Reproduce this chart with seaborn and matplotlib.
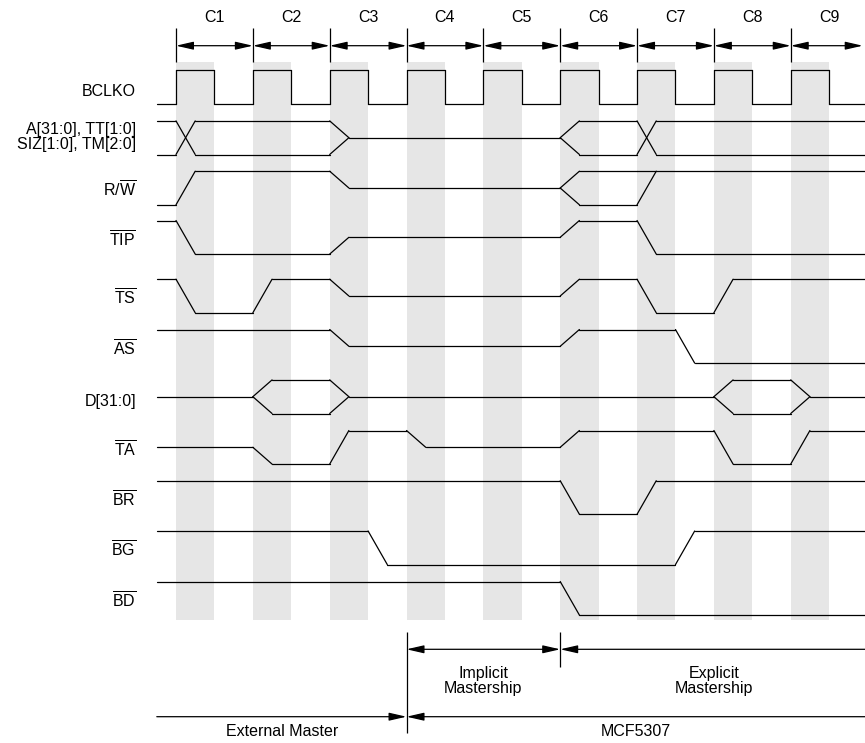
import matplotlib
matplotlib.use("Agg")
import pandas as pd
import matplotlib.pyplot as plt
import seaborn as sns

sns.set_theme(style="white")
plt.rcParams["font.family"] = ["Liberation Sans", "DejaVu Sans"]
plt.rcParams["text.color"] = "black"
plt.rcParams["mathtext.fontset"] = "custom"
plt.rcParams["mathtext.rm"] = "Liberation Sans"
plt.rcParams["mathtext.it"] = "Liberation Sans:italic"
plt.rcParams["mathtext.bf"] = "Liberation Sans:bold"

# ---- data: time in bus clock cycles (0 = rising edge of C1) ----
cycles = ["C1", "C2", "C3", "C4", "C5", "C6", "C7", "C8", "C9"]
cycle_starts = [0, 1, 2, 3, 4, 5, 6, 7, 8]

signal_names = ["BCLKO", "ADDR", r"R/$\overline{\mathrm{W}}$", r"$\overline{\mathrm{TIP}}$",
                r"$\overline{\mathrm{TS}}$", r"$\overline{\mathrm{AS}}$", "D[31:0]",
                r"$\overline{\mathrm{TA}}$", r"$\overline{\mathrm{BR}}$",
                r"$\overline{\mathrm{BG}}$", r"$\overline{\mathrm{BD}}$"]
addr_label = ["A[31:0], TT[1:0]", "SIZ[1:0], TM[2:0]"]

# states: H high, L low, Z three-state (mid), V bus valid (both rails)
clk_start = "L"
clk_events = [(0, "H"), (0.5, "L"), (1, "H"), (1.5, "L"), (2, "H"), (2.5, "L"),
              (3, "H"), (3.5, "L"), (4, "H"), (4.5, "L"), (5, "H"), (5.5, "L"),
              (6, "H"), (6.5, "L"), (7, "H"), (7.5, "L"), (8, "H"), (8.5, "L")]
addr_start = "V"
addr_events = [(0, "V"), (2, "Z"), (5, "V"), (6, "V")]
rw_start = "L"
rw_events = [(0, "H"), (2, "Z"), (5, "V"), (6, "H")]
tip_start = "H"
tip_events = [(0, "L"), (2, "Z"), (5, "H"), (6, "L")]
ts_start = "H"
ts_events = [(0, "L"), (1, "H"), (2, "Z"), (5, "H"), (6, "L"), (7, "H")]
as_start = "H"
as_events = [(2, "Z"), (5, "H"), (6.5, "L")]
d_start = "Z"
d_events = [(1, "V"), (2, "Z"), (7, "V"), (8, "Z")]
ta_start = "Z"
ta_events = [(1, "L"), (2, "H"), (3, "Z"), (5, "H"), (7, "L"), (8, "H")]
br_start = "H"
br_events = [(5, "L"), (6, "H")]
bg_start = "H"
bg_events = [(2.5, "L"), (6.5, "H")]
bd_start = "H"
bd_events = [(5, "L")]

phase_top = [("Implicit", "Mastership", 3, 5), ("Explicit", "Mastership", 5, None)]
phase_bottom = [("External Master", None, 3), ("MCF5307", 3, None)]

# ---- layout (pixels for y, cycles for x) ----
PERIOD_PX = 76.84
X_MIN = -176 / PERIOD_PX
X_MAX = (865 - 176) / PERIOD_PX
X_START = -0.25
ROW_Y = [87.2, 137.7, 188, 237.3, 296, 346.3, 396.7, 447.3, 497.5, 547.8, 598.3]
AMP = 16.8
EDGE = 0.25
FS = 11.5
LW = 0.9
HEAD = "head_length=1.05,head_width=0.24"


def levels(state, mid):
    return {"H": [mid - AMP], "L": [mid + AMP], "Z": [mid],
            "V": [mid - AMP, mid + AMP]}[state]


def wave_segments(start, events, mid, dur):
    segs = []
    state, t_prev = start, X_START
    for t, new in events:
        old_lv = levels(state, mid)
        for y in old_lv:
            segs.append([(t_prev, y), (t, y)])
        if state == "V" and new == "V":
            segs.append([(t, mid - AMP), (t + dur, mid + AMP)])
            segs.append([(t, mid + AMP), (t + dur, mid - AMP)])
        else:
            for a in old_lv:
                for b in levels(new, mid):
                    segs.append([(t, a), (t + dur, b)])
        state, t_prev = new, t + dur
    for y in levels(state, mid):
        segs.append([(t_prev, y), (X_MAX, y)])
    return segs


waves = [(clk_start, clk_events, 0), (addr_start, addr_events, EDGE),
         (rw_start, rw_events, EDGE), (tip_start, tip_events, EDGE),
         (ts_start, ts_events, EDGE), (as_start, as_events, EDGE),
         (d_start, d_events, EDGE), (ta_start, ta_events, EDGE),
         (br_start, br_events, EDGE), (bg_start, bg_events, EDGE),
         (bd_start, bd_events, EDGE)]

rows = []
seg_id = 0
for (start, events, dur), mid in zip(waves, ROW_Y):
    for seg in wave_segments(start, events, mid, dur):
        for t, y in seg:
            rows.append({"seg": seg_id, "t": t, "y": y})
        seg_id += 1
df = pd.DataFrame(rows)

fig = plt.figure(figsize=(8.65, 7.43), dpi=100)
ax = fig.add_axes([0, 0, 1, 1])

# shaded high phase of each clock
for c in cycle_starts:
    ax.fill_betweenx([62, 620], c, c + 0.5, color="#e6e6e6", lw=0, zorder=0)

sns.lineplot(data=df, x="t", y="y", units="seg", estimator=None, sort=False,
             color="black", linewidth=LW, legend=False, ax=ax,
             solid_capstyle="round", zorder=3)

# cycle markers on top
ax.vlines(cycle_starts, 28, 62, color="black", lw=LW)
arrow_kw = dict(color="black", lw=LW, shrinkA=0, shrinkB=0, mutation_scale=10)
for name, c in zip(cycles, cycle_starts):
    end = min(c + 1, X_MAX - 0.03)
    ax.annotate("", xy=(end, 45.7), xytext=(c, 45.7),
                arrowprops=dict(arrowstyle="<|-|>," + HEAD, **arrow_kw))
    ax.text(c + 0.5, 21.7, name, ha="center", va="baseline", fontsize=FS)

# signal labels
LABEL_X = (136 - 176) / PERIOD_PX
for name, mid in zip(signal_names, ROW_Y):
    if name == "ADDR":
        ax.text(LABEL_X, 134, addr_label[0], ha="right", va="baseline", fontsize=FS)
        ax.text(LABEL_X, 149.3, addr_label[1], ha="right", va="baseline", fontsize=FS)
    else:
        ax.text(LABEL_X, mid + 9.2, name, ha="right", va="baseline", fontsize=FS)

# mastership annotations
ax.vlines(3, 632, 733, color="black", lw=LW)
ax.vlines(5, 632, 667, color="black", lw=LW)
for l1, l2, a, b in phase_top:
    if b is None:
        ax.annotate("", xy=(a, 649.3), xytext=(X_MAX, 649.3),
                    arrowprops=dict(arrowstyle="-|>," + HEAD, **arrow_kw))
        xc = 7
    else:
        ax.annotate("", xy=(b, 649.3), xytext=(a, 649.3),
                    arrowprops=dict(arrowstyle="<|-|>," + HEAD, **arrow_kw))
        xc = (a + b) / 2
    ax.text(xc, 678, l1, ha="center", va="baseline", fontsize=FS)
    ax.text(xc, 693.5, l2, ha="center", va="baseline", fontsize=FS)

for label, a, b in phase_bottom:
    if a is None:
        ax.annotate("", xy=(b, 716.7), xytext=(X_START, 716.7),
                    arrowprops=dict(arrowstyle="-|>," + HEAD, **arrow_kw))
        xc = (X_START + b) / 2
    else:
        ax.annotate("", xy=(a, 716.7), xytext=(X_MAX, 716.7),
                    arrowprops=dict(arrowstyle="-|>," + HEAD, **arrow_kw))
        xc = (a + X_MAX) / 2
    ax.text(xc, 736.5, label, ha="center", va="baseline", fontsize=FS)

ax.set_xlim(X_MIN, X_MAX)
ax.set_ylim(743, 0)
ax.axis("off")

fig.savefig("out.png", dpi=100)
plt.close(fig)
